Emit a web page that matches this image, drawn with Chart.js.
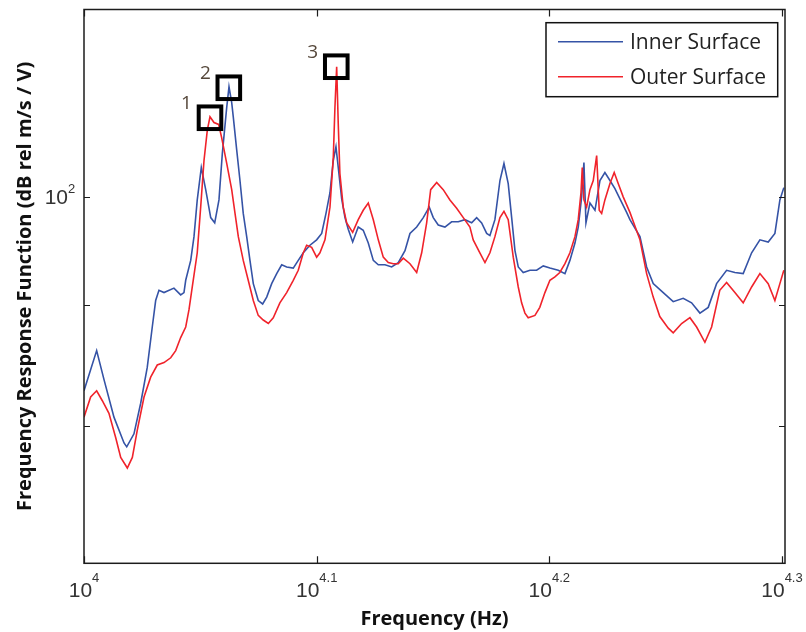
<!DOCTYPE html>
<html>
<head>
<meta charset="utf-8">
<title>Frequency response</title>
<script src="https://cdn.jsdelivr.net/npm/chart.js@4.4.1/dist/chart.umd.min.js"></script>
<style>
  html, body { margin: 0; padding: 0; background: #fff; }
</style>
</head>
<body>
<canvas id="frf" width="806" height="632"></canvas>
<script>
// values: frequency (Hz) and response
const innerFreq = [10000, 10126, 10200, 10301, 10404, 10432, 10507, 10577, 10646, 10699, 10735, 10770, 10824, 10931, 11004, 11040, 11059, 11114, 11150, 11186, 11231, 11280, 11336, 11381, 11429, 11467, 11517, 11543, 11574, 11592, 11631, 11669, 11707, 11747, 11785, 11824, 11882, 11934, 11982, 12041, 12101, 12161, 12221, 12301, 12362, 12424, 12506, 12589, 12652, 12706, 12756, 12798, 12832, 12861, 12905, 12947, 12989, 13046, 13118, 13183, 13249, 13315, 13381, 13470, 13559, 13648, 13739, 13807, 13899, 13990, 14073, 14129, 14199, 14293, 14388, 14483, 14579, 14676, 14749, 14822, 14896, 14944, 15018, 15093, 15153, 15217, 15269, 15319, 15369, 15445, 15548, 15651, 15754, 15858, 15989, 16096, 16175, 16256, 16309, 16364, 16401, 16434, 16499, 16581, 16663, 16745, 16829, 16912, 16996, 17109, 17165, 17336, 17451, 17565, 17740, 17916, 18094, 18245, 18396, 18548, 18702, 18888, 19044, 19201, 19362, 19521, 19682, 19813, 19911, 19989];
const innerResp = [82.8, 86.1, 83.7, 80.7, 78.7, 78.4, 79.4, 81.8, 84.7, 88.1, 90.4, 91.3, 91.1, 91.5, 90.9, 91.1, 92.2, 94.0, 96.2, 99.7, 102.9, 100.7, 98.0, 97.5, 99.7, 104.3, 109.1, 111.3, 109.6, 108.1, 104.7, 101.6, 98.4, 96.2, 94.0, 91.9, 90.4, 90.1, 90.7, 91.9, 92.8, 93.6, 93.4, 93.3, 94.0, 94.7, 95.4, 95.9, 96.5, 98.4, 100.4, 103.6, 105.0, 102.9, 99.8, 98.0, 96.9, 95.7, 97.1, 96.8, 95.6, 94.0, 93.6, 93.6, 93.4, 93.8, 94.9, 96.5, 97.1, 98.0, 99.0, 98.0, 97.3, 97.1, 97.6, 97.6, 97.8, 97.5, 98.0, 97.5, 96.5, 96.3, 97.8, 101.6, 103.3, 101.3, 98.0, 94.9, 93.4, 92.9, 93.1, 93.1, 93.5, 93.3, 93.1, 92.8, 94.0, 95.6, 97.1, 100.0, 103.4, 97.5, 99.4, 98.7, 101.6, 102.4, 101.6, 100.8, 99.8, 98.5, 97.8, 96.2, 93.4, 91.9, 91.1, 90.3, 90.6, 90.2, 89.3, 89.8, 91.9, 93.1, 92.9, 92.8, 94.7, 95.9, 95.7, 96.5, 99.7, 100.9];

const outerFreq = [10000, 10066, 10126, 10183, 10250, 10319, 10370, 10438, 10490, 10542, 10612, 10682, 10752, 10824, 10896, 10950, 11004, 11059, 11095, 11131, 11186, 11224, 11261, 11298, 11328, 11373, 11425, 11460, 11517, 11574, 11612, 11650, 11707, 11765, 11824, 11882, 11941, 12001, 12060, 12139, 12221, 12301, 12362, 12424, 12465, 12527, 12589, 12630, 12693, 12756, 12798, 12819, 12841, 12861, 12882, 12925, 12969, 13046, 13118, 13183, 13249, 13315, 13381, 13447, 13514, 13581, 13648, 13716, 13807, 13899, 13968, 14037, 14093, 14177, 14269, 14364, 14460, 14555, 14651, 14699, 14796, 14871, 14944, 15018, 15093, 15153, 15217, 15293, 15369, 15420, 15471, 15521, 15625, 15700, 15780, 15858, 15937, 16014, 16096, 16175, 16256, 16309, 16353, 16374, 16401, 16445, 16499, 16553, 16609, 16651, 16691, 16745, 16829, 16900, 16967, 17051, 17165, 17336, 17451, 17565, 17680, 17829, 17916, 18066, 18215, 18336, 18487, 18610, 18761, 18888, 19044, 19201, 19362, 19521, 19682, 19813, 19911, 19989];
const outerResp = [80.7, 82.3, 82.8, 82.0, 81.0, 79.1, 77.6, 76.8, 77.6, 79.7, 82.3, 83.9, 84.9, 85.1, 85.5, 86.1, 87.2, 88.1, 89.6, 91.6, 94.7, 99.0, 103.6, 106.7, 108.1, 107.5, 107.3, 105.9, 103.3, 100.7, 98.4, 96.2, 94.0, 92.2, 90.4, 89.1, 88.7, 88.4, 88.9, 90.2, 91.1, 92.2, 93.1, 94.7, 95.4, 95.2, 94.3, 94.7, 95.9, 99.0, 103.9, 109.1, 113.5, 107.4, 102.3, 99.0, 97.5, 96.6, 97.8, 98.7, 99.4, 97.8, 95.9, 94.3, 93.8, 93.7, 93.7, 94.2, 93.7, 92.9, 94.7, 97.5, 100.7, 101.4, 100.7, 99.7, 98.9, 98.0, 97.1, 95.9, 94.7, 93.8, 94.7, 96.2, 98.0, 98.6, 97.8, 94.3, 91.6, 90.2, 89.3, 88.9, 89.1, 89.8, 91.1, 92.2, 92.5, 92.9, 93.7, 94.7, 96.2, 97.8, 100.4, 102.9, 99.7, 99.0, 100.7, 101.6, 104.1, 98.7, 98.4, 99.7, 101.3, 102.4, 101.3, 100.0, 98.5, 95.9, 92.8, 90.7, 89.0, 88.0, 87.6, 88.4, 88.9, 88.1, 86.8, 88.1, 91.3, 92.0, 91.1, 90.2, 91.6, 92.8, 91.9, 90.4, 91.9, 93.1];

// axis ticks: 10^exp labels
const xTickValues = [10000, 12589.25, 15848.93, 19952.62];
const xTickExps = ['4', '4.1', '4.2', '4.3'];
const yTickValues = [80, 90, 100];
const yTickExps = [null, null, '2'];

// marked peaks
const peakNames = ['1', '2', '3'];
const peakFreq = [11328, 11541, 12836];
const peakResp = [108.0, 111.2, 113.5];

const seriesNames = ['Inner Surface', 'Outer Surface'];
const seriesColors = ['#3553a6', '#f0232b'];

const pts = (fs, vs) => fs.map((f, i) => ({ x: f, y: vs[i] }));

const titleFont = { family: 'Open Sans', weight: 'bold', size: 20 };

const decor = {
  id: 'decor',
  afterDraw(chart) {
    const { ctx, chartArea: a, scales: { x, y } } = chart;
    ctx.save();

    // ticks, pointing inward on all four sides
    ctx.strokeStyle = '#1c1c1c';
    ctx.lineWidth = 1.2;
    ctx.beginPath();
    xTickValues.forEach(v => {
      const px = Math.round(x.getPixelForValue(v)) + 0.5;
      ctx.moveTo(px, a.bottom); ctx.lineTo(px, a.bottom - 7);
      ctx.moveTo(px, a.top); ctx.lineTo(px, a.top + 7);
    });
    yTickValues.forEach(v => {
      const py = Math.round(y.getPixelForValue(v)) + 0.5;
      ctx.moveTo(a.left, py); ctx.lineTo(a.left + 6, py);
      ctx.moveTo(a.right, py); ctx.lineTo(a.right - 6, py);
    });
    ctx.stroke();

    // box
    ctx.lineWidth = 1.5;
    ctx.strokeRect(a.left, a.top, a.right - a.left, a.bottom - a.top);

    // tick labels as 10^n
    const baseFont = '21px "Liberation Sans", Arial, sans-serif';
    const expFont = '13px "Liberation Sans", Arial, sans-serif';
    ctx.fillStyle = '#333';
    ctx.textBaseline = 'alphabetic';
    ctx.textAlign = 'left';
    xTickValues.forEach((v, i) => {
      const px = x.getPixelForValue(v);
      ctx.font = baseFont;
      const wb = ctx.measureText('10').width;
      ctx.font = expFont;
      const we = ctx.measureText(xTickExps[i]).width;
      const start = px - (wb + we) / 2;
      ctx.font = baseFont;
      ctx.fillText('10', start, a.bottom + 33.5);
      ctx.font = expFont;
      ctx.fillText(xTickExps[i], start + wb, a.bottom + 18.5);
    });
    yTickValues.forEach((v, i) => {
      if (!yTickExps[i]) return;
      const py = y.getPixelForValue(v);
      ctx.font = baseFont;
      ctx.textAlign = 'right';
      ctx.fillText('10', a.left - 16, py + 7.5);
      ctx.font = expFont;
      ctx.textAlign = 'left';
      ctx.fillText(yTickExps[i], a.left - 16, py - 3.5);
    });

    // peak markers
    ctx.strokeStyle = '#000';
    ctx.lineWidth = 4;
    ctx.font = '19px "Open Sans", sans-serif';
    ctx.fillStyle = '#55473a';
    ctx.textAlign = 'center';
    ctx.textBaseline = 'middle';
    peakNames.forEach((name, i) => {
      const cx = x.getPixelForValue(peakFreq[i]);
      const cy = y.getPixelForValue(peakResp[i]);
      ctx.strokeRect(cx - 11.3, cy - 11.3, 22.6, 22.6);
      ctx.fillText(name, cx - 23.5, cy - 14);
    });

    // legend
    const lw = 231.7, lh = 74;
    const lx = a.right - 7.3 - lw, ly = a.top + 13.2;
    ctx.fillStyle = '#fff';
    ctx.fillRect(lx, ly, lw, lh);
    ctx.strokeStyle = '#111';
    ctx.lineWidth = 1.5;
    ctx.strokeRect(lx, ly, lw, lh);
    ctx.font = '21px "Open Sans", sans-serif';
    ctx.textAlign = 'left';
    ctx.textBaseline = 'middle';
    seriesNames.forEach((name, i) => {
      const yy = ly + 19 + i * 35;
      ctx.strokeStyle = seriesColors[i];
      ctx.lineWidth = 1.6;
      ctx.beginPath();
      ctx.moveTo(lx + 12, yy);
      ctx.lineTo(lx + 77, yy);
      ctx.stroke();
      ctx.fillStyle = '#222';
      ctx.fillText(name, lx + 84, yy + 1);
    });

    ctx.restore();
  }
};

new Chart(document.getElementById('frf'), {
  type: 'line',
  data: {
    datasets: [
      { label: seriesNames[0], data: pts(innerFreq, innerResp), borderColor: seriesColors[0], borderWidth: 1.6, order: 1 },
      { label: seriesNames[1], data: pts(outerFreq, outerResp), borderColor: seriesColors[1], borderWidth: 1.6, order: 0 }
    ]
  },
  options: {
    responsive: false,
    animation: false,
    devicePixelRatio: 1,
    layout: { padding: { top: 9.5, right: 21, left: 0, bottom: 0 } },
    elements: { point: { radius: 0 }, line: { tension: 0 } },
    plugins: { legend: { display: false }, tooltip: { enabled: false } },
    scales: {
      x: {
        type: 'logarithmic',
        min: 10000,
        max: 20012,
        grid: { display: false },
        border: { display: false },
        ticks: { display: false },
        title: { display: true, text: 'Frequency (Hz)', color: '#111', font: titleFont, padding: { top: 0, bottom: 1 } },
        afterFit: s => { s.height = 68.7; }
      },
      y: {
        type: 'logarithmic',
        min: 70,
        max: 120,
        grid: { display: false },
        border: { display: false },
        ticks: { display: false },
        title: { display: true, text: 'Frequency Response Function (dB rel m/s / V)', color: '#111', font: titleFont, padding: { top: 13, bottom: 0 } },
        afterFit: s => { s.width = 84; }
      }
    }
  },
  plugins: [decor]
});
</script>
</body>
</html>
